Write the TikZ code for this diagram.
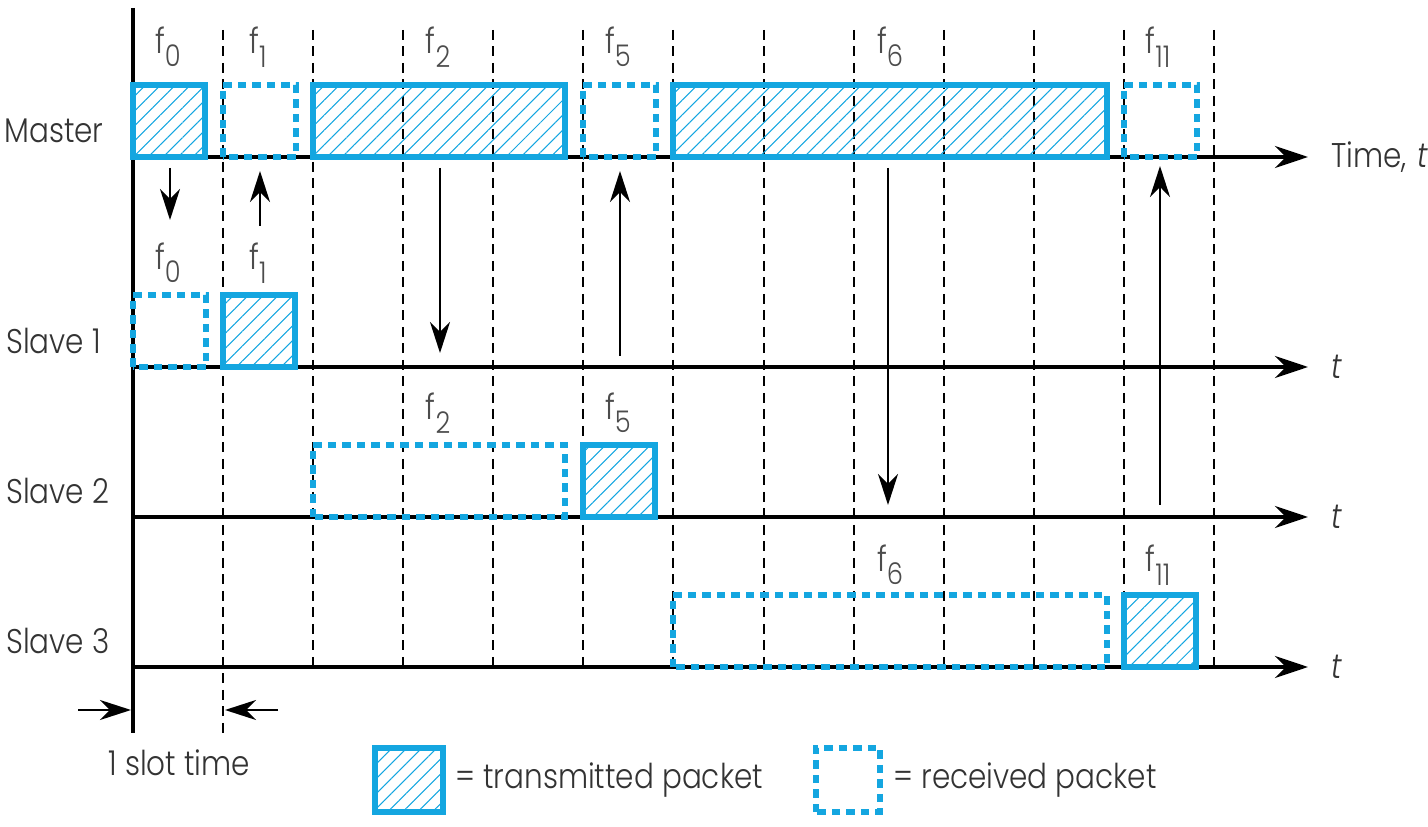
\documentclass[tikz,border=0pt]{standalone}
\usepackage{fontspec}
\setmainfont{Poppins}[UprightFont=* Light, ItalicFont=* Light Italic, FakeStretch=0.86]
\usetikzlibrary{arrows.meta,patterns.meta}
\definecolor{pktblue}{RGB}{20,166,224}
\newcommand{\pktwidth}{0.12cm}
\newcommand{\fsub}[1]{f\raisebox{-0.7ex}{\fontsize{17}{17}\selectfont #1}}

\tikzset{
  txpkt/.style={draw=pktblue, line width=\pktwidth, pattern={Lines[angle=45,distance=6pt,line width=0.6pt]}, pattern color=pktblue},
  rxpkt/.style={draw=pktblue, line width=\pktwidth, dash pattern=on 0.17cm off 0.12cm},
  slotline/.style={line width=0.9pt, dash pattern=on 0.2cm off 0.13cm},
  timeaxis/.style={line width=2.1pt, -{Stealth[length=0.66cm,width=0.44cm,inset=0.22cm]}},
  msg/.style={line width=1.2pt, -{Stealth[length=0.62cm,width=0.4cm,inset=0.2cm]}},
  rowlbl/.style={font=\fontsize{19.5}{19.5}\selectfont, text=black!80, anchor=west, inner sep=0pt},
  flbl/.style={font=\fontsize{20}{20}\selectfont, text=black!70, inner sep=0pt}
}

\begin{document}
\begin{tikzpicture}[x=0.02cm, y=-0.02cm]
\useasboundingbox (0,0) rectangle (1428,827);
% slot boundaries
\draw[slotline] (223,30) -- (223,733);
\draw[slotline] (313,30) -- (313,667);
\draw[slotline] (403,30) -- (403,667);
\draw[slotline] (493,30) -- (493,667);
\draw[slotline] (583,30) -- (583,667);
\draw[slotline] (673,30) -- (673,667);
\draw[slotline] (764,30) -- (764,667);
\draw[slotline] (854,30) -- (854,667);
\draw[slotline] (944,30) -- (944,667);
\draw[slotline] (1034,30) -- (1034,667);
\draw[slotline] (1124,30) -- (1124,667);
\draw[slotline] (1214,30) -- (1214,667);
% axes
\coordinate (top) at (133,8);
\coordinate (bot) at (133,733);
\draw[line width=2.1pt] (top) -- (bot);
\coordinate (m0) at (133,157);
\coordinate (m1) at (1308,157);
\coordinate (s10) at (133,367);
\coordinate (s11) at (1308,367);
\coordinate (s20) at (133,517);
\coordinate (s21) at (1308,517);
\coordinate (s30) at (133,667);
\coordinate (s31) at (1308,667);
\draw[timeaxis] (m0) -- (m1);
\draw[timeaxis] (s10) -- (s11);
\draw[timeaxis] (s20) -- (s21);
\draw[timeaxis] (s30) -- (s31);
\node[rowlbl] (tm) at (1331,157) {Time,\hspace{0.3em}\textit{t}};
\node[rowlbl] (t1) at (1331,367) {\textit{t}};
\node[rowlbl] (t2) at (1331,517) {\textit{t}};
\node[rowlbl] (t3) at (1331,667) {\textit{t}};
\node[rowlbl] (master) at (4,131) {Master};
\node[rowlbl] (slave1) at (6,341) {Slave 1};
\node[rowlbl] (slave2) at (6,491) {Slave 2};
\node[rowlbl] (slave3) at (6,641) {Slave 3};
% master
\draw[txpkt] (133,157) rectangle (205,85);
\draw[rxpkt] (223,157) rectangle (296,85);
\draw[txpkt] (313,157) rectangle (565,85);
\draw[rxpkt] (583,157) rectangle (656,85);
\draw[txpkt] (673,157) rectangle (1107,85);
\draw[rxpkt] (1124,157) rectangle (1197,85);
% slaves
\draw[rxpkt] (133,367) rectangle (206,295);
\draw[txpkt] (223,367) rectangle (295,295);
\draw[rxpkt] (313,517) rectangle (565,445);
\draw[txpkt] (583,517) rectangle (655,445);
\draw[rxpkt] (673,667) rectangle (1107,595);
\draw[txpkt] (1124,667) rectangle (1196,595);
% frequency labels
\node[flbl] (fm0) at (168,47) {\fsub{0}};
\node[flbl] (fm1) at (258,47) {\fsub{1}};
\node[flbl] (fm2) at (438,47) {\fsub{2}};
\node[flbl] (fm5) at (618,47) {\fsub{5}};
\node[flbl] (fm6) at (890,47) {\fsub{6}};
\node[flbl] (fm11) at (1158,47) {\fsub{11}};
\node[flbl] (fs0) at (168,263) {\fsub{0}};
\node[flbl] (fs1) at (258,263) {\fsub{1}};
\node[flbl] (fs2) at (438,413) {\fsub{2}};
\node[flbl] (fs5) at (618,413) {\fsub{5}};
\node[flbl] (fs6) at (890,565) {\fsub{6}};
\node[flbl] (fs11) at (1158,565) {\fsub{11}};
% hops
\coordinate (h0a) at (170,168);
\coordinate (h0b) at (170,220);
\coordinate (h1a) at (260,226);
\coordinate (h1b) at (260,171);
\coordinate (h2a) at (440,168);
\coordinate (h2b) at (440,353);
\coordinate (h5a) at (620,356);
\coordinate (h5b) at (620,171);
\coordinate (h6a) at (888,168);
\coordinate (h6b) at (888,505);
\coordinate (h11a) at (1160,505);
\coordinate (h11b) at (1160,166);
\draw[msg] (h0a) -- (h0b);
\draw[msg] (h1a) -- (h1b);
\draw[msg] (h2a) -- (h2b);
\draw[msg] (h5a) -- (h5b);
\draw[msg] (h6a) -- (h6b);
\draw[msg] (h11a) -- (h11b);
% slot time
\coordinate (sl0) at (78,710);
\coordinate (sl1) at (131,710);
\coordinate (sr0) at (278,710);
\coordinate (sr1) at (225,710);
\draw[msg] (sl0) -- (sl1);
\draw[msg] (sr0) -- (sr1);
\node[rowlbl] (slot) at (108,763) {1 slot time};
% legend
\draw[txpkt] (375,812) rectangle (443,748);
\node[rowlbl] (ltx) at (455,780) {= transmitted packet};
\draw[rxpkt] (816,812) rectangle (880,748);
\node[rowlbl] (lrx) at (893,780) {= received packet};
\end{tikzpicture}
\end{document}
